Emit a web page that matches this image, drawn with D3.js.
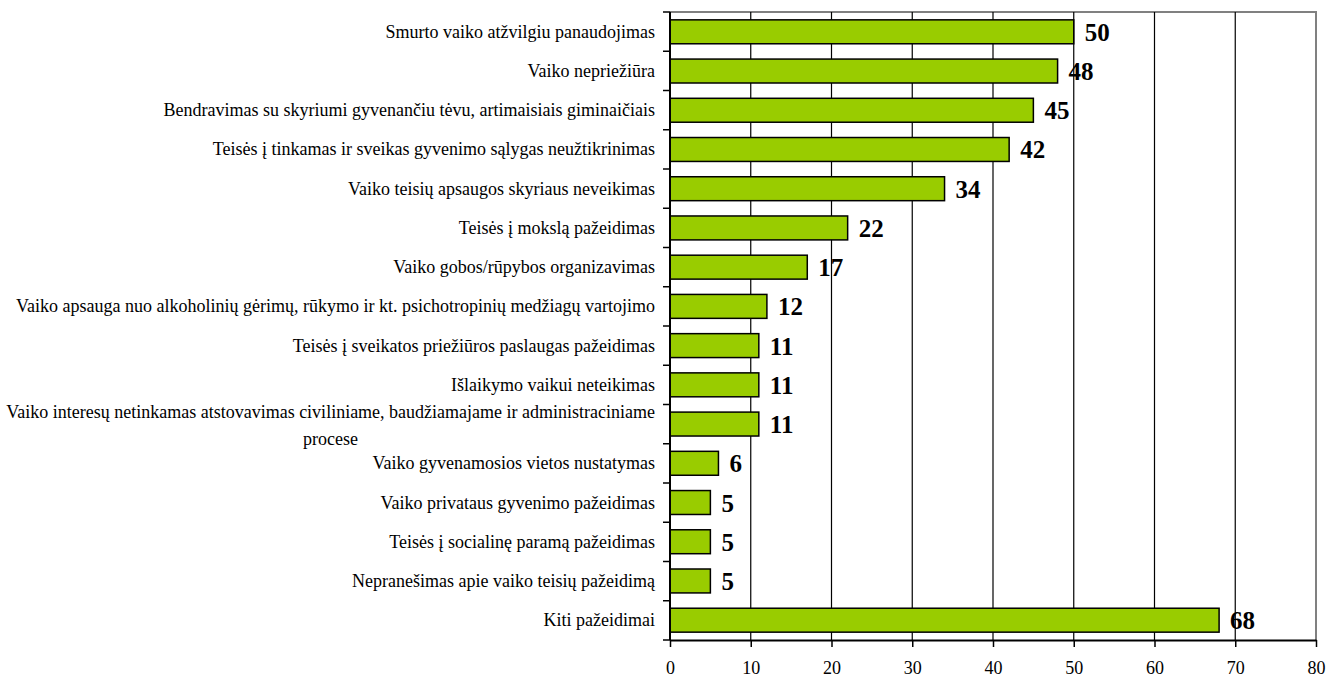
<!DOCTYPE html>
<html>
<head>
<meta charset="utf-8">
<script src="https://cdn.jsdelivr.net/npm/d3@7"></script>
<style>
  body { margin: 0; background: #fff; overflow: hidden; }
  svg { display: block; }
  svg text { font-family: "Liberation Serif", "Times New Roman", serif; }
</style>
</head>
<body>
<div id="chart"></div>
<script>
const categories = [
  "Smurto vaiko atžvilgiu panaudojimas",
  "Vaiko nepriežiūra",
  "Bendravimas su skyriumi gyvenančiu tėvu, artimaisiais giminaičiais",
  "Teisės į tinkamas ir sveikas gyvenimo sąlygas neužtikrinimas",
  "Vaiko teisių apsaugos skyriaus neveikimas",
  "Teisės į mokslą pažeidimas",
  "Vaiko gobos/rūpybos organizavimas",
  "Vaiko apsauga nuo alkoholinių gėrimų, rūkymo ir kt. psichotropinių medžiagų vartojimo",
  "Teisės į sveikatos priežiūros paslaugas pažeidimas",
  "Išlaikymo vaikui neteikimas",
  "Vaiko interesų netinkamas atstovavimas civiliniame, baudžiamajame ir administraciniame procese",
  "Vaiko gyvenamosios vietos nustatymas",
  "Vaiko privataus gyvenimo pažeidimas",
  "Teisės į socialinę paramą pažeidimas",
  "Nepranešimas apie vaiko teisių pažeidimą",
  "Kiti pažeidimai"
]
const values = [50, 48, 45, 42, 34, 22, 17, 12, 11, 11, 11, 6, 5, 5, 5, 68]
const xTicks = [0, 10, 20, 30, 40, 50, 60, 70, 80]

const width = 1341, height = 680
const margin = {top: 12, right: 25, bottom: 40, left: 670}

const svg = d3.select('#chart')
    .append('svg')
    .attr('width', width)
    .attr('height', height)

const x = d3.scaleLinear([0, 80], [margin.left, width - margin.right])
const y = d3.scaleBand(categories, [margin.top, height - margin.bottom])
    .paddingInner(0.39)
    .paddingOuter(0.2)
const band = d3.scaleBand(categories, [margin.top, height - margin.bottom])

// plot area border (gray, top and right)
svg.append('path')
    .attr('d', `M${x(0)},${margin.top}H${x(80)}V${height - margin.bottom}`)
    .attr('fill', 'none')
    .attr('stroke', '#808080')
    .attr('stroke-width', 2)

// gridlines
svg.append('g')
    .selectAll('line')
    .data(xTicks.slice(1, -1))
    .join('line')
    .attr('x1', d => x(d)).attr('x2', d => x(d))
    .attr('y1', margin.top).attr('y2', height - margin.bottom)
    .attr('stroke', '#000')
    .attr('stroke-width', 1.2)

// bars
svg.append('g')
    .selectAll('rect')
    .data(values)
    .join('rect')
    .attr('x', x(0))
    .attr('y', (d, i) => y(categories[i]))
    .attr('width', d => x(d) - x(0))
    .attr('height', y.bandwidth())
    .attr('fill', '#99cc00')
    .attr('stroke', '#000')
    .attr('stroke-width', 1.5)

// value labels
svg.append('g')
    .selectAll('text')
    .data(values)
    .join('text')
    .attr('x', d => x(d) + 11)
    .attr('y', (d, i) => band(categories[i]) + band.bandwidth() / 2 + 9)
    .attr('font-size', 25)
    .attr('font-weight', 'bold')
    .text(d => d)

// x axis
const xAxis = svg.append('g')
    .attr('transform', `translate(0,${height - margin.bottom})`)
    .call(d3.axisBottom(x).tickValues(xTicks).tickSize(7).tickSizeOuter(0).tickPadding(14))
xAxis.select('.domain').attr('stroke-width', 2)
xAxis.selectAll('.tick line').attr('stroke-width', 1.5)
xAxis.selectAll('text')
    .attr('font-size', 18)
    .attr('fill', '#000')

// y axis with ticks at band boundaries
const yAxis = svg.append('g')
yAxis.append('line')
    .attr('x1', x(0)).attr('x2', x(0))
    .attr('y1', margin.top).attr('y2', height - margin.bottom)
    .attr('stroke', '#000')
    .attr('stroke-width', 2)
yAxis.selectAll('line.tk')
    .data(categories.map(c => band(c)).concat([height - margin.bottom]))
    .join('line')
    .attr('class', 'tk')
    .attr('x1', x(0) - 7).attr('x2', x(0))
    .attr('y1', d => d).attr('y2', d => d)
    .attr('stroke', '#000')
    .attr('stroke-width', 1.5)

// category labels, wrapped when too long
const labelRight = 655, maxW = 655
const labels = svg.append('g')
    .attr('font-size', 18)
    .attr('fill', '#000')

categories.forEach(cat => {
    const cy = band(cat) + band.bandwidth() / 2
    const probe = labels.append('text').text(cat)
    let lines = [cat]
    if (probe.node().getComputedTextLength() > maxW) {
        const words = cat.split(' ')
        lines = []
        let cur = ''
        words.forEach(w => {
            const test = cur ? cur + ' ' + w : w
            probe.text(test)
            if (probe.node().getComputedTextLength() > maxW && cur) {
                lines.push(cur)
                cur = w
            } else cur = test
        })
        lines.push(cur)
    }
    probe.remove()
    if (lines.length === 1) {
        labels.append('text')
            .attr('x', labelRight)
            .attr('y', cy + 6)
            .attr('text-anchor', 'end')
            .text(cat)
    } else {
        const t = labels.append('text').attr('text-anchor', 'middle')
        const spans = t.selectAll('tspan').data(lines).join('tspan').text(d => d)
        const w = d3.max(spans.nodes(), n => n.getComputedTextLength())
        spans.attr('x', labelRight - w / 2)
            .attr('y', (d, i) => cy + 7 + (i - (lines.length - 1) / 2) * 27)
    }
})
</script>
</body>
</html>
